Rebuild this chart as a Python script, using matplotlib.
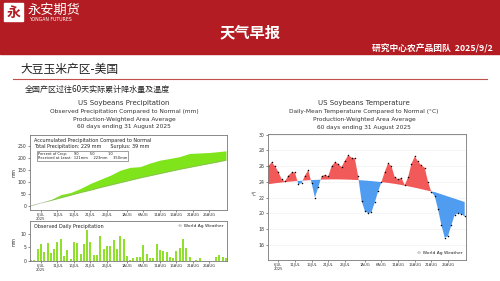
import matplotlib.pyplot as plt
from matplotlib.patches import Rectangle

W, H = 500, 281
CJK = ["Noto Sans CJK SC", "DejaVu Sans"]

# 60 days, 3 Jul - 31 Aug 2025 (day 0 = 3 Jul)
daily_precip = [0.4, 0.2, 4.5, 6.3, 3.2, 6.6, 3.0, 4.3, 7.0, 8.0,
                2.0, 4.0, 0.8, 7.0, 6.5, 2.5, 6.3, 11.3, 7.0, 2.2,
                2.2, 9.3, 4.5, 5.5, 5.3, 7.5, 4.5, 9.3, 8.0, 1.8,
                0.3, 1.2, 1.3, 1.6, 6.0, 2.5, 1.2, 1.2, 6.3, 4.0,
                3.5, 3.3, 1.3, 1.0, 3.5, 4.8, 8.0, 4.8, 1.5, 0.0,
                0.5, 1.0, 0.0, 0.0, 0.0, 0.0, 1.5, 2.1, 1.5, 1.0]

cum_days = [0, 3, 6, 9, 12, 15, 18, 21, 24, 27, 30, 33, 36, 39, 42, 45, 48, 51, 54, 57, 59]
cum_obs = [1, 11, 25, 46, 55, 72, 93, 110, 127, 148, 160, 163, 178, 190, 197, 205, 218, 220, 222, 226, 229]
cum_normal = [0, 11, 22, 33, 44, 55, 65, 76, 86, 96, 106, 116, 125, 134, 143, 152, 160, 168, 176, 184, 190]

temp_obs = [26.0, 26.5, 26.0, 25.3, 24.35, 24.05, 24.8, 25.2, 25.2, 23.7,
            23.85, 24.8, 25.5, 23.85, 22.0, 23.3, 24.7, 24.9, 24.7, 26.0,
            26.5, 26.3, 25.9, 26.7, 27.4, 27.1, 27.0, 24.7, 21.6, 20.3,
            20.0, 20.15, 21.4, 22.8, 24.0, 25.3, 26.4, 26.0, 24.6, 24.35,
            24.5, 23.6, 24.6, 26.3, 27.25, 26.6, 26.1, 25.8, 24.0, 22.7,
            22.2, 20.5, 18.5, 16.9, 17.1, 18.5, 19.8, 20.0, 19.9, 19.6]
temp_normal = [23.70, 23.76, 23.82, 23.87, 23.92, 23.97, 24.01, 24.05, 24.09, 24.12,
               24.15, 24.18, 24.21, 24.23, 24.25, 24.27, 24.29, 24.30, 24.31, 24.32,
               24.32, 24.32, 24.31, 24.30, 24.29, 24.27, 24.25, 24.23, 24.20, 24.17,
               24.14, 24.10, 24.06, 24.02, 23.97, 23.92, 23.87, 23.81, 23.75, 23.68,
               23.60, 23.52, 23.44, 23.35, 23.26, 23.17, 23.07, 22.97, 22.87, 22.78,
               22.70, 22.56, 22.42, 22.28, 22.14, 22.00, 21.86, 21.72, 21.58, 21.44]

tick_days = [3, 8, 13, 18, 23, 29, 34, 39, 44, 49, 54]
tick_labels = ["6JUL\n2025", "11JUL", "16JUL", "21JUL", "26JUL", "1AUG",
               "6AUG", "11AUG", "16AUG", "21AUG", "26AUG"]


def box(x0, y0, x1, y1):
    return [x0 / W, 1 - y1 / H, (x1 - x0) / W, (y1 - y0) / H]


def style(ax):
    for s in ax.spines.values():
        s.set_color("#777777")
        s.set_linewidth(0.6)
    ax.tick_params(labelsize=3.3, length=1.5, width=0.4, pad=1, colors="#333333")
    ax.set_xticks(tick_days)
    ax.set_xticklabels(tick_labels, linespacing=0.9, fontsize=2.7)


fig = plt.figure(figsize=(5, 2.81), dpi=100)

# slide background, header and captions, in pixel coordinates
bg = fig.add_axes([0, 0, 1, 1])
bg.set_xlim(0, W)
bg.set_ylim(H, 0)
bg.axis("off")
bg.add_patch(Rectangle((0, 0), W, 54, color="#b21c22"))
bg.add_patch(Rectangle((4, 3), 19, 18, color="white"))
bg.text(13.5, 12.5, "永", color="#b21c22", fontsize=10, fontweight="bold",
        family=CJK, ha="center", va="center")
bg.text(28, 10, "永安期货", color="white", fontsize=9.5, family=CJK, va="center")
bg.text(29, 19.5, "YONGAN FUTURES", color="white", fontsize=3.3, va="center")
bg.text(250, 32, "天气早报", color="white", fontsize=11, fontweight="bold",
        family=CJK, ha="center", va="center")
bg.text(493, 48.5, "研究中心农产品团队  2025/9/2", color="white", fontsize=6.3,
        fontweight="bold", family=CJK, ha="right", va="center")

bg.text(20, 69.5, "大豆玉米产区-美国", fontsize=8.5, family=CJK, va="center", color="#222222")
bg.plot([13, 487], [79, 79], color="#c0504d", lw=0.8)
bg.text(25, 89.5, "全国产区过往60天实际累计降水量及温度", fontsize=5.8, family=CJK,
        va="center", color="#222222")

for y, s, fs in [(103.3, "US Soybeans Precipitation", 5.0),
                 (111.7, "Observed Precipitation Compared to Normal (mm)", 4.2),
                 (119.3, "Production-Weighted Area Average", 4.2),
                 (126.7, "60 days ending 31 August 2025", 4.2)]:
    bg.text(124, y, s, fontsize=fs, ha="center", va="center", color="#333333")
for y, s, fs in [(103.3, "US Soybeans Temperature", 5.0),
                 (111.7, "Daily-Mean Temperature Compared to Normal (°C)", 4.2),
                 (119.3, "Production-Weighted Area Average", 4.2),
                 (127.3, "60 days ending 31 August 2025", 4.2)]:
    bg.text(364, y, s, fontsize=fs, ha="center", va="center", color="#333333")

# accumulated precipitation
ax1 = fig.add_axes(box(30, 135, 227, 210))
ax1.fill_between(cum_days, cum_normal, cum_obs, color="#7fe41a", lw=0)
ax1.plot(cum_days, cum_normal, color="#999999", lw=0.3)
ax1.set_xlim(-0.3, 59.3)
ax1.set_ylim(-18, 295)
ax1.set_yticks([0, 50, 100, 150, 200, 250])
style(ax1)
ax1.set_ylabel("mm", fontsize=3.3, labelpad=1, color="#333333")
ax1.text(0.02, 0.96, "Accumulated Precipitation Compared to Normal", transform=ax1.transAxes,
         fontsize=3.5, va="top", color="#222222")
ax1.text(0.02, 0.875, "Total Precipitation: 229 mm      Surplus: 39 mm", transform=ax1.transAxes,
         fontsize=3.5, va="top", color="#222222")
ax1.text(0.04, 0.72, "Percent of Crop:      90          50            10\n"
         "Received at Least:  121mm     223mm     350mm", transform=ax1.transAxes,
         fontsize=2.6, va="center", color="#222222", linespacing=1.1,
         bbox=dict(boxstyle="square,pad=0.3", fc="white", ec="#555555", lw=0.4))

# observed daily precipitation
ax2 = fig.add_axes(box(30, 221, 227, 261))
ax2.bar(range(len(daily_precip)), daily_precip, width=0.6, color="#8ee02a", lw=0)
ax2.set_xlim(-0.3, 59.3)
ax2.set_ylim(0, 14.6)
ax2.set_yticks([0, 5, 10])
style(ax2)
ax2.set_ylabel("mm", fontsize=3.3, labelpad=3, color="#333333")
ax2.text(0.02, 0.93, "Observed Daily Precipitation", transform=ax2.transAxes,
         fontsize=3.5, va="top", color="#222222")
ax2.text(0.98, 0.93, "© World Ag Weather", transform=ax2.transAxes,
         fontsize=3.2, va="top", ha="right", color="#222222")

# temperature
days = list(range(len(temp_obs)))
ax3 = fig.add_axes(box(268, 134, 466, 260))
for t in range(16, 31, 2):
    ax3.axhline(t, color="#eeeeee", lw=0.4, zorder=0)
ax3.fill_between(days, temp_normal, temp_obs, where=[o >= n for o, n in zip(temp_obs, temp_normal)],
                 interpolate=True, color="#f25a5a", lw=0)
ax3.fill_between(days, temp_normal, temp_obs, where=[o < n for o, n in zip(temp_obs, temp_normal)],
                 interpolate=True, color="#4f9cf0", lw=0)
ax3.plot(days, temp_obs, "o", color="black", ms=1.1, mew=0)
ax3.set_xlim(-0.1, 59.4)
ax3.set_ylim(14.05, 30.1)
ax3.set_yticks(range(16, 31, 2))
style(ax3)
ax3.set_ylabel("°C", fontsize=3.5, rotation=0, labelpad=4, color="#333333")
ax3.text(0.98, 0.04, "© World Ag Weather", transform=ax3.transAxes,
         fontsize=3.2, va="bottom", ha="right", color="#222222")

fig.savefig("out.png", dpi=100)
